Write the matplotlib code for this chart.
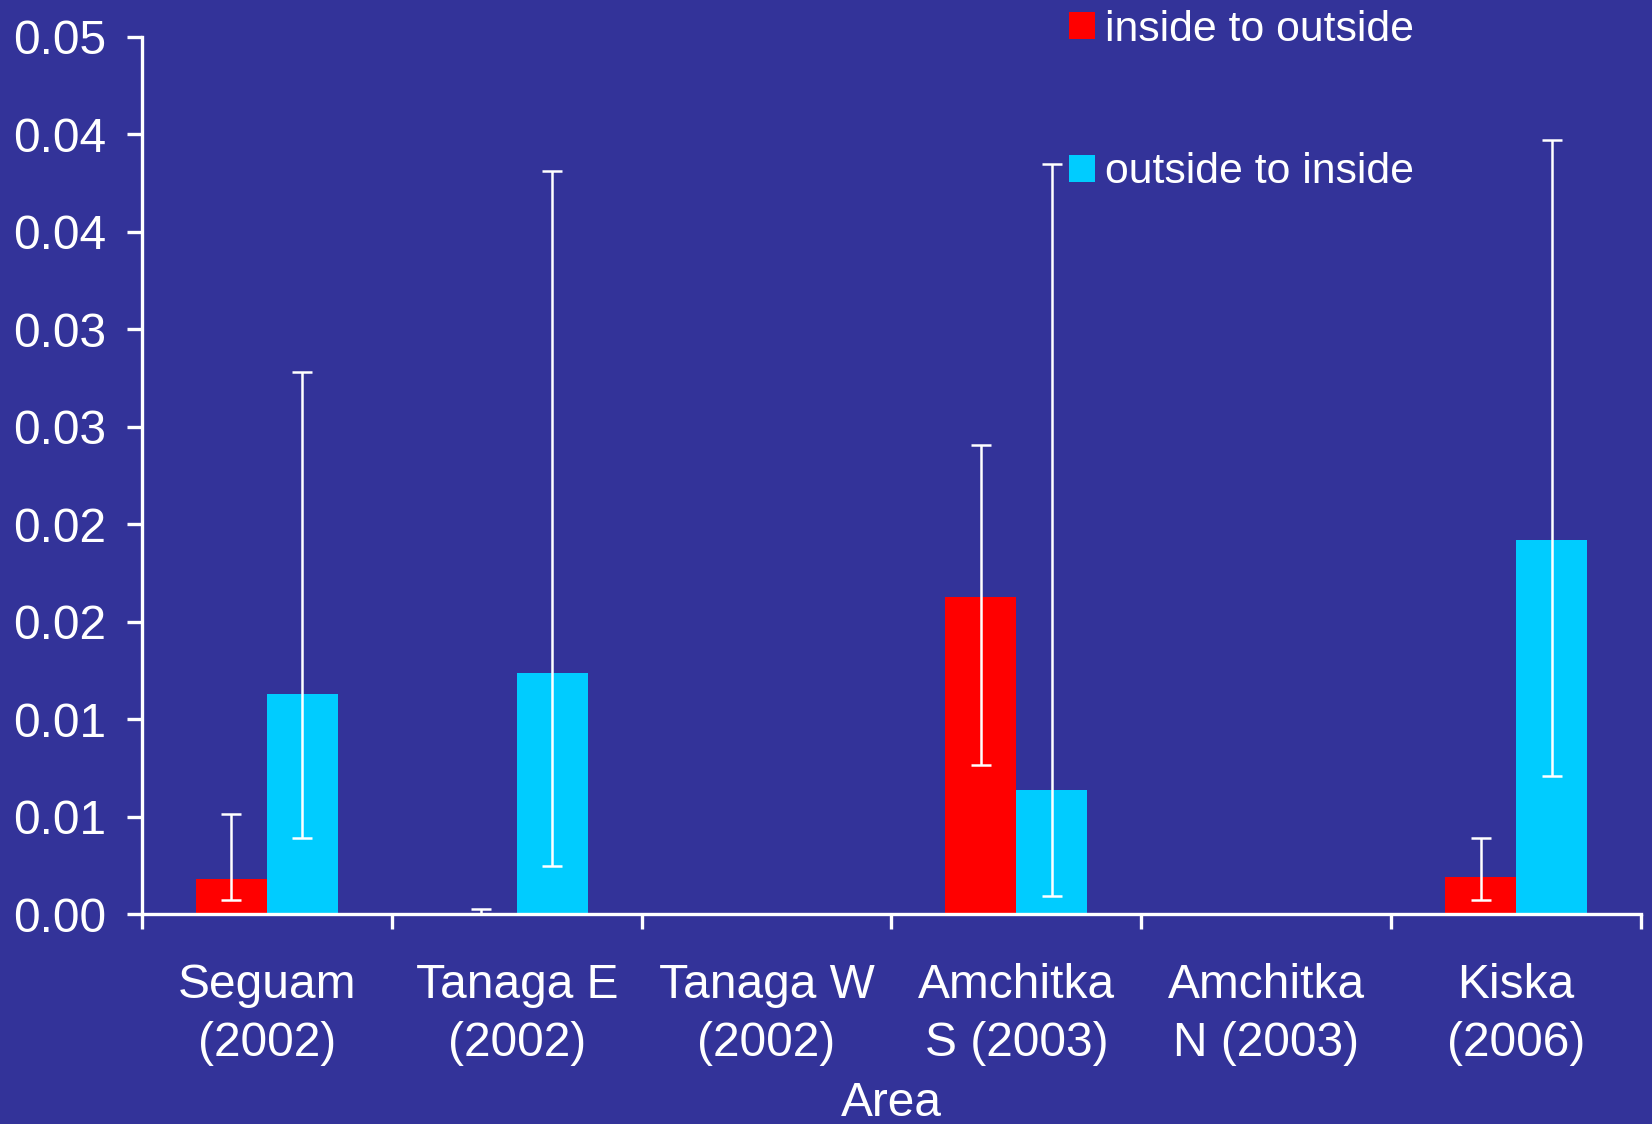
import numpy as np
import matplotlib
matplotlib.use("Agg")
import matplotlib.pyplot as plt

# Data
areas = ["Seguam\n(2002)", "Tanaga E\n(2002)", "Tanaga W\n(2002)",
         "Amchitka\nS (2003)", "Amchitka\nN (2003)", "Kiska\n(2006)"]
series = ["inside to outside", "outside to inside"]

in_out = [0.0018, 0.00005, 0.0, 0.01625, 0.0, 0.0019]
in_out_lo = [0.0007, 0.0, np.nan, 0.00767, np.nan, 0.0007]
in_out_hi = [0.00513, 0.00025, np.nan, 0.02409, np.nan, 0.0039]

out_in = [0.0113, 0.01237, 0.0, 0.00636, 0.0, 0.01919]
out_in_lo = [0.0039, 0.00248, np.nan, 0.00090, np.nan, 0.00708]
out_in_hi = [0.02782, 0.03814, np.nan, 0.03846, np.nan, 0.0397]

y_ticks = [0.0, 0.005, 0.010, 0.015, 0.020, 0.025, 0.030, 0.035, 0.040, 0.045]
y_tick_labels = ["0.00", "0.01", "0.01", "0.02", "0.02", "0.03", "0.03",
                 "0.04", "0.04", "0.05"]

# Style
BG = "#333399"
RED = "#FF0000"
CYAN = "#00CCFF"
WHITE = "#FFFFFF"
FS = 34.5

plt.rcParams["font.family"] = ["Liberation Sans", "DejaVu Sans"]

fig = plt.figure(figsize=(16.52, 11.24), dpi=100, facecolor=BG)
ax = fig.add_axes([142 / 1652, 1 - 914 / 1124, 1499 / 1652, 877 / 1124])
ax.set_facecolor(BG)

x = np.arange(len(areas))
w = 0.284

ax.bar(x - w / 2, in_out, width=w, color=RED, label=series[0], zorder=2)
ax.bar(x + w / 2, out_in, width=w, color=CYAN, label=series[1], zorder=2)

def err(vals, lo, hi):
    v = np.array(vals)
    return np.vstack([v - np.array(lo), np.array(hi) - v])

for off, vals, lo, hi in [(-w / 2, in_out, in_out_lo, in_out_hi),
                          (w / 2, out_in, out_in_lo, out_in_hi)]:
    ax.errorbar(x + off, vals, yerr=err(vals, lo, hi), fmt="none",
                ecolor=WHITE, elinewidth=1.8, capsize=7, capthick=1.8,
                zorder=3)

ax.set_xlim(-0.5, len(areas) - 0.5)
ax.set_ylim(0, 0.045)

for s in ["top", "right"]:
    ax.spines[s].set_visible(False)
for s in ["left", "bottom"]:
    ax.spines[s].set_color(WHITE)
    ax.spines[s].set_linewidth(2.4)

ax.set_yticks(y_ticks)
ax.set_yticklabels(y_tick_labels)
ax.tick_params(axis="y", colors=WHITE, labelsize=FS, length=11, width=2.4,
               pad=15, direction="out")

ax.set_xticks(np.arange(-0.5, len(areas)), labels=[""] * (len(areas) + 1))
ax.tick_params(axis="x", which="major", colors=WHITE, length=11, width=2.4,
               direction="out")
ax.set_xticks(x, labels=areas, minor=True)
ax.tick_params(axis="x", which="minor", colors=WHITE, labelsize=FS,
               length=0, pad=35)
for lab in ax.get_xticklabels(minor=True):
    lab.set_linespacing(1.38)

ax.set_xlabel("Area", color=WHITE, fontsize=FS, labelpad=11)

leg = ax.legend(loc="center left", bbox_to_anchor=(1069 / 1652, 1 - 101 / 1124),
                bbox_transform=fig.transFigure, frameon=False, fontsize=30.8,
                labelspacing=2.4, handlelength=0.6, handleheight=0.6,
                handletextpad=0.25, borderpad=0, borderaxespad=0)
for t in leg.get_texts():
    t.set_color(WHITE)

fig.savefig("out.png", dpi=100, facecolor=BG)
